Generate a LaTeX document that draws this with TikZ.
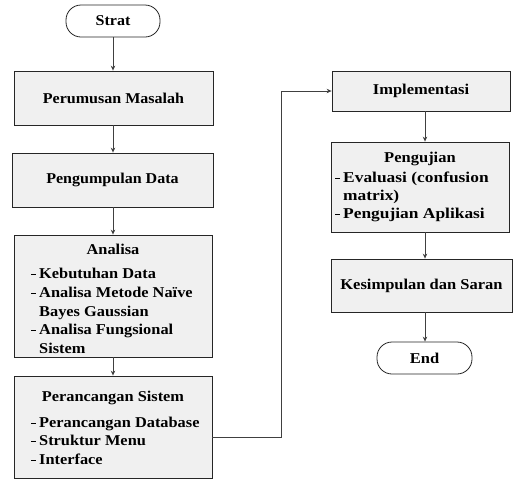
\documentclass[tikz,border=0pt]{standalone}
\usepackage{fontspec}
\setmainfont{Liberation Serif}
\newfontfamily\lfont{Liberation Serif}[FakeStretch=1.07]
\newfontfamily\lifont{Liberation Serif}[FakeStretch=1.09]
\newfontfamily\rfont{Liberation Serif}[FakeStretch=1.1]
\newfontfamily\rifont{Liberation Serif}[FakeStretch=1.16]
\usetikzlibrary{arrows.meta}
\definecolor{boxgray}{HTML}{F0F0F0}
\definecolor{linegray}{HTML}{404040}
\newcommand\dsh{\makebox[8pt][l]{\rule[3.6pt]{5pt}{1.1pt}}}
\newcommand\itpad{\hspace*{8pt}}
\begin{document}
\begin{tikzpicture}[x=1pt,y=-1pt,
  proc/.style={draw=black!85, fill=boxgray, line width=0.8pt, inner sep=0pt},
  term/.style={draw=black!85, fill=white, rounded corners=15pt, line width=0.8pt, inner sep=0pt},
  ltxt/.style={font=\lfont\bfseries\fontsize{15}{18.5}\selectfont, inner sep=0pt},
  litxt/.style={font=\lifont\bfseries\fontsize{15}{18.7}\selectfont, inner sep=0pt},
  rtxt/.style={font=\rfont\bfseries\fontsize{15}{18}\selectfont, inner sep=0pt},
  ritxt/.style={font=\rifont\bfseries\fontsize{15}{18}\selectfont, inner sep=0pt},
  lst/.style={align=left, anchor=north west},
  arr/.style={draw=linegray, line width=0.8pt, -{Stealth[length=5pt,width=4.5pt]}}]
\useasboundingbox (0,0) rectangle (515,488);

% left column
\node[term, ltxt, minimum width=94pt, minimum height=32pt] (st) at (113,21) {Strat};
\node[proc, ltxt, minimum width=199pt, minimum height=54pt] (p1) at (113.5,98) {Perumusan Masalah};
\node[proc, ltxt, minimum width=201pt, minimum height=54pt] (p2) at (112.5,180) {Pengumpulan Data};
\node[proc, minimum width=198pt, minimum height=122pt] (p3) at (113,296) {};
\node[litxt, anchor=base] (h3) at (113,254) {Analisa};
\node[litxt, lst] (l3) at (31,265.5) {\strut\dsh Kebutuhan Data\\ \dsh Analisa Metode Naïve\\ \itpad Bayes Gaussian\\ \dsh Analisa Fungsional\\ \itpad Sistem};
\node[proc, minimum width=198pt, minimum height=102pt] (p4) at (113,427) {};
\node[litxt, anchor=base] (h4) at (113,401) {Perancangan Sistem};
\node[litxt, lst] (l4) at (31,414) {\strut\dsh Perancangan Database\\ \dsh Struktur Menu\\ \dsh Interface};

% right column
\node[proc, rtxt, minimum width=178pt, minimum height=40pt] (im) at (421,91) {Implementasi};
\node[proc, minimum width=178pt, minimum height=90pt] (pg) at (420,187) {};
\node[rtxt, anchor=base] (hg) at (420,162) {Pengujian};
\node[ritxt, lst] (lg) at (335,170) {\strut\dsh Evaluasi (confusion\\ \itpad matrix)\\ \dsh Pengujian Aplikasi};
\node[proc, rtxt, minimum width=181pt, minimum height=53pt] (ks) at (421.5,285.5) {Kesimpulan dan Saran};
\node[term, rtxt, minimum width=95pt, minimum height=32pt] (en) at (424.5,358) {End};

% connectors
\draw[arr] (st.south) -- (st.south |- p1.north);
\draw[arr] (st.south |- p1.south) -- (st.south |- p2.north);
\draw[arr] (st.south |- p2.south) -- (st.south |- p3.north);
\draw[arr] (st.south |- p3.south) -- (st.south |- p4.north);

\coordinate (bl) at (281,437);
\coordinate (bh) at (281,91);
\draw[arr] (bl -| p4.east) -- (bl) -- (bh) -- (im.west);

\coordinate (rx) at (425,0);
\draw[arr] (im.south -| rx) -- (pg.north -| rx);
\draw[arr] (pg.south -| rx) -- (ks.north -| rx);
\draw[arr] (ks.south -| rx) -- (en.north -| rx);
\end{tikzpicture}
\end{document}
